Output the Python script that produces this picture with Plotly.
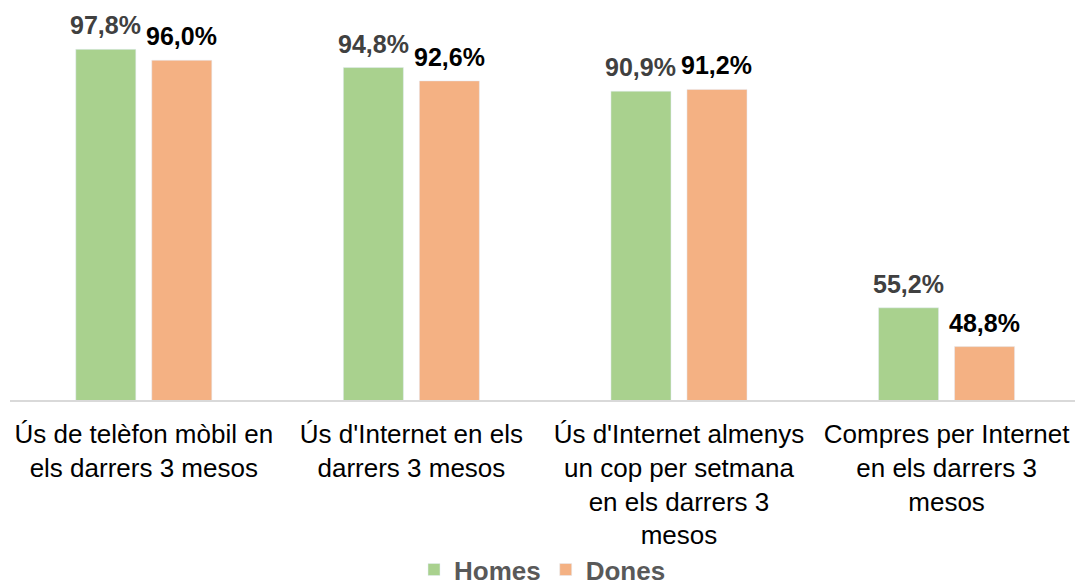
import plotly.graph_objects as go

categories = [
    "Ús de telèfon mòbil en<br>els darrers 3 mesos",
    "Ús d'Internet en els<br>darrers 3 mesos",
    "Ús d'Internet almenys<br>un cop per setmana<br>en els darrers 3<br>mesos",
    "Compres per Internet<br>en els darrers 3<br>mesos",
]
homes = [97.8, 94.8, 90.9, 55.2]
dones = [96.0, 92.6, 91.2, 48.8]

def fmt(v):
    return f"{v:.1f}%".replace(".", ",")

FONT = "Liberation Sans, Arial, sans-serif"

fig = go.Figure()
fig.add_trace(go.Bar(name="Homes", x=categories, y=homes, marker=dict(color="#A9D18E")))
fig.add_trace(go.Bar(name="Dones", x=categories, y=dones, marker=dict(color="#F4B183")))

for cat, v in zip(categories, homes):
    fig.add_annotation(x=cat, y=v, text=fmt(v), showarrow=False, xshift=-38, yshift=8,
                       yanchor="bottom", xanchor="center",
                       font=dict(family=FONT, size=25, color="#404040", weight="bold"))
for cat, v in zip(categories, dones):
    fig.add_annotation(x=cat, y=v, text=fmt(v), showarrow=False, xshift=38, yshift=8,
                       yanchor="bottom", xanchor="center",
                       font=dict(family=FONT, size=25, color="#000000", weight="bold"))

fig.update_layout(
    width=1075, height=587,
    margin=dict(l=10, r=0, t=36, b=187, autoexpand=False),
    paper_bgcolor="white", plot_bgcolor="white",
    barmode="group", bargap=0.432, bargroupgap=0.21,
    font=dict(family=FONT, size=26, color="#000000"),
    showlegend=True,
    legend=dict(
        orientation="h", x=0.5, xanchor="center", y=-0.466, yanchor="middle",
        font=dict(family=FONT, size=26, color="#595959", weight="bold"),
        itemwidth=30, tracegroupgap=0,
    ),
    xaxis=dict(
        type="category", range=[-0.5, 3.48],
        showline=True, linecolor="#D9D9D9", linewidth=1.5,
        ticks="", showgrid=False,
        tickfont=dict(family=FONT, size=26, color="#000000"),
        ticklabelstandoff=10, automargin=False,
    ),
    yaxis=dict(
        range=[40, 100], visible=False, showgrid=False, zeroline=False,
    ),
)

fig.write_html("out.html", config={"displayModeBar": False},
               post_script="document.body.style.margin='0';")
